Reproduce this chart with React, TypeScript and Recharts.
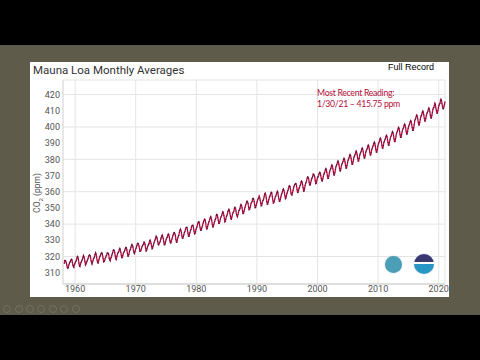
import React from "react";
import { LineChart, Line, CartesianGrid, XAxis, YAxis } from "recharts";

// monthly means (ppm), one row per year; the first row starts in March 1958
const startYear = 1958;
const startMonth = 2;
const monthlyPpm: number[][] = [
  [315.7, 317.5, 317.5, 317.1, 315.9, 314.9, 313.2, 312.7, 313.3, 314.7],
  [315.6, 316.5, 316.7, 317.7, 318.3, 318.2, 316.5, 314.8, 313.8, 313.3, 314.8, 315.6],
  [316.4, 317.0, 317.6, 319.0, 320.0, 319.6, 318.2, 315.9, 314.2, 313.8, 315.0, 316.2],
  [316.9, 317.7, 318.5, 319.5, 320.6, 319.8, 318.6, 316.8, 314.8, 315.4, 316.1, 317.0],
  [317.9, 318.6, 319.7, 320.6, 321.0, 320.6, 319.6, 317.4, 316.3, 315.4, 316.7, 317.7],
  [318.7, 319.1, 319.9, 321.4, 322.3, 321.5, 319.7, 317.8, 316.2, 316.0, 317.1, 318.4],
  [319.6, 320.3, 321.0, 322.0, 322.3, 321.9, 320.4, 318.7, 316.7, 316.9, 317.7, 318.7],
  [319.4, 320.4, 320.9, 322.1, 322.2, 321.9, 321.4, 318.8, 317.8, 317.3, 318.9, 319.4],
  [320.6, 321.6, 322.4, 323.9, 324.0, 323.8, 322.4, 320.4, 318.6, 318.1, 319.8, 321.1],
  [322.1, 322.5, 323.0, 324.4, 325.0, 324.1, 322.6, 320.9, 319.3, 319.3, 320.7, 322.0],
  [322.6, 323.2, 323.9, 325.0, 325.6, 325.4, 324.1, 322.1, 320.3, 320.3, 321.3, 322.9],
  [324.0, 324.4, 325.6, 326.7, 327.4, 326.7, 325.9, 323.7, 322.4, 321.8, 322.9, 324.1],
  [325.0, 326.0, 326.9, 328.1, 328.1, 327.7, 326.4, 324.7, 323.1, 323.2, 324.0, 325.1],
  [326.2, 326.7, 327.2, 327.8, 328.9, 328.6, 327.4, 325.4, 323.4, 323.6, 324.8, 326.0],
  [326.8, 327.6, 327.8, 329.7, 330.1, 329.1, 328.0, 326.3, 324.8, 325.2, 326.5, 327.6],
  [328.6, 329.6, 330.3, 331.5, 332.5, 332.1, 330.9, 329.3, 327.5, 327.2, 328.2, 328.6],
  [329.4, 330.7, 331.5, 332.7, 333.2, 332.2, 331.1, 329.2, 327.3, 327.3, 328.3, 329.6],
  [330.7, 331.5, 331.9, 333.2, 333.9, 333.5, 332.0, 330.0, 328.5, 328.3, 329.4, 330.6],
  [331.6, 332.8, 333.5, 334.6, 334.8, 334.0, 333.1, 330.7, 329.0, 328.8, 330.2, 331.6],
  [332.7, 333.1, 335.0, 336.1, 336.9, 336.2, 334.9, 332.6, 331.3, 331.3, 332.4, 333.6],
  [335.0, 335.3, 336.7, 337.7, 338.0, 338.0, 336.4, 334.4, 332.4, 332.4, 333.8, 334.9],
  [336.1, 336.7, 338.3, 339.0, 339.2, 339.3, 337.5, 335.8, 334.0, 334.2, 335.3, 336.8],
  [337.9, 338.3, 340.0, 340.9, 341.5, 341.3, 339.4, 337.7, 336.2, 336.2, 337.3, 338.3],
  [339.3, 340.6, 341.6, 342.5, 343.0, 342.5, 340.8, 338.4, 337.0, 337.1, 338.6, 339.9],
  [341.0, 341.7, 342.8, 344.0, 344.6, 343.8, 342.3, 340.1, 338.3, 338.3, 339.6, 340.9],
  [341.7, 342.9, 343.3, 345.3, 346.0, 345.6, 344.2, 342.3, 340.4, 340.4, 341.6, 343.1],
  [344.1, 344.8, 345.5, 346.8, 347.6, 347.0, 345.5, 343.6, 341.4, 341.7, 343.1, 344.7],
  [345.2, 346.2, 347.7, 348.3, 349.1, 348.4, 346.7, 345.0, 343.3, 343.1, 344.5, 345.9],
  [346.9, 347.5, 348.1, 349.8, 350.4, 349.9, 348.2, 346.1, 345.2, 344.5, 345.9, 347.2],
  [348.5, 348.7, 349.7, 351.3, 352.1, 351.5, 350.1, 348.1, 346.5, 346.6, 348.0, 349.2],
  [350.4, 351.6, 352.4, 353.7, 354.2, 353.7, 352.7, 350.4, 348.9, 349.1, 350.2, 351.4],
  [352.9, 353.3, 354.0, 355.6, 355.9, 355.4, 354.0, 351.8, 350.1, 350.3, 351.5, 352.9],
  [353.8, 355.0, 355.7, 356.3, 357.3, 356.3, 354.8, 353.0, 351.3, 351.6, 353.1, 354.3],
  [354.8, 355.7, 357.2, 358.7, 359.1, 358.1, 356.2, 353.9, 352.3, 352.4, 353.8, 355.1],
  [356.3, 357.1, 357.9, 359.1, 359.6, 359.3, 357.0, 354.9, 353.0, 353.3, 354.3, 355.6],
  [357.0, 357.3, 358.5, 359.3, 360.2, 359.5, 357.3, 355.6, 354.0, 354.1, 355.4, 356.9],
  [358.2, 358.9, 360.0, 361.2, 361.7, 360.8, 359.4, 357.5, 355.7, 356.1, 357.5, 359.0],
  [359.9, 360.9, 361.8, 363.3, 363.7, 363.2, 361.6, 359.1, 358.2, 358.0, 359.5, 360.7],
  [362.1, 363.2, 364.2, 364.6, 365.1, 364.9, 363.6, 361.4, 359.5, 359.6, 360.9, 362.2],
  [362.8, 363.8, 364.4, 366.1, 366.6, 365.9, 364.4, 362.5, 360.4, 360.5, 362.1, 363.9],
  [365.1, 365.8, 366.8, 368.5, 369.2, 368.9, 367.9, 365.9, 364.2, 364.2, 365.5, 366.9],
  [368.0, 368.7, 369.5, 370.9, 370.7, 370.2, 369.1, 367.0, 365.0, 365.2, 366.6, 368.0],
  [369.1, 369.3, 370.5, 371.4, 372.0, 371.5, 370.0, 368.1, 366.8, 366.7, 368.0, 369.4],
  [370.7, 371.5, 372.2, 373.5, 374.3, 373.7, 372.0, 369.9, 368.2, 368.2, 369.8, 371.6],
  [372.9, 373.7, 374.4, 375.7, 376.5, 375.9, 374.2, 372.1, 370.4, 370.4, 372.0, 373.8],
  [375.4, 376.2, 376.9, 378.2, 379.0, 378.4, 376.7, 374.6, 372.9, 372.9, 374.5, 376.3],
  [377.1, 377.9, 378.6, 379.9, 380.7, 380.1, 378.4, 376.3, 374.6, 374.6, 376.2, 378.0],
  [379.4, 380.2, 380.9, 382.2, 383.0, 382.4, 380.7, 378.6, 376.9, 376.9, 378.5, 380.3],
  [381.5, 382.3, 383.0, 384.3, 385.1, 384.5, 382.8, 380.7, 379.0, 379.0, 380.6, 382.4],
  [383.4, 384.2, 384.9, 386.2, 387.0, 386.4, 384.7, 382.6, 380.9, 380.9, 382.5, 384.3],
  [385.2, 386.0, 386.7, 388.0, 388.8, 388.2, 386.5, 384.4, 382.7, 382.7, 384.3, 386.1],
  [387.0, 387.8, 388.5, 389.8, 390.6, 390.0, 388.3, 386.2, 384.5, 384.5, 386.1, 387.9],
  [389.5, 390.3, 391.0, 392.3, 393.1, 392.5, 390.8, 388.7, 387.0, 387.0, 388.6, 390.4],
  [391.3, 392.1, 392.8, 394.1, 394.9, 394.3, 392.6, 390.5, 388.8, 388.8, 390.4, 392.2],
  [393.5, 394.3, 395.0, 396.3, 397.1, 396.5, 394.8, 392.7, 391.0, 391.0, 392.6, 394.4],
  [396.1, 396.9, 397.6, 398.9, 399.7, 399.1, 397.4, 395.3, 393.6, 393.6, 395.2, 397.0],
  [398.2, 399.0, 399.7, 401.0, 401.8, 401.2, 399.5, 397.4, 395.7, 395.7, 397.3, 399.1],
  [400.4, 401.2, 401.9, 403.2, 404.0, 403.4, 401.7, 399.6, 397.9, 397.9, 399.5, 401.3],
  [403.8, 404.6, 405.3, 406.6, 407.4, 406.8, 405.1, 403.0, 401.3, 401.3, 402.9, 404.7],
  [406.2, 407.0, 407.7, 409.0, 409.8, 409.2, 407.5, 405.4, 403.7, 403.7, 405.3, 407.1],
  [408.1, 408.9, 409.6, 410.9, 411.7, 411.1, 409.4, 407.3, 405.6, 405.6, 407.2, 409.0],
  [410.8, 411.8, 412.0, 413.3, 414.6, 413.9, 411.7, 410.0, 408.5, 408.5, 410.3, 411.8],
  [413.4, 414.1, 414.5, 416.2, 417.1, 416.4, 414.4, 412.5, 411.3, 411.3, 412.9, 414.0],
  [415.5],
];

const xTicks = [1960, 1970, 1980, 1990, 2000, 2010, 2020];
const yTicks = [310, 320, 330, 340, 350, 360, 370, 380, 390, 400, 410, 420];

const data: { x: number; ppm: number }[] = [];
monthlyPpm.forEach((row, i) => {
  const first = i === 0 ? startMonth : 0;
  row.forEach((ppm, j) => {
    data.push({ x: startYear + i + (first + j + 0.5) / 12, ppm });
  });
});

const tickStyle = { fontSize: 9, fill: "#555", fontFamily: "Roboto, sans-serif" };

// faint slide-show controls in the lower left corner
const controls = [6, 18, 29, 40, 52, 63, 75];

export default function App() {
  return (
    <div style={{ position: "absolute", left: 0, top: 0, width: 480, height: 360, background: "#000", overflow: "hidden" }}>
      <div style={{ position: "absolute", left: 0, top: 45, width: 480, height: 270, background: "#5e5b4b" }} />
      {controls.map((x) => (
        <div
          key={x}
          style={{ position: "absolute", left: x - 3, top: 305, width: 6, height: 6, borderRadius: "50%", border: "1px solid #74715f" }}
        />
      ))}
      <div style={{ position: "absolute", left: 30, top: 62, width: 419, height: 235, background: "#fff" }}>
        <LineChart width={419} height={235} data={data} margin={{ top: 18, right: 4, left: 0, bottom: 0 }}>
          <CartesianGrid stroke="#e4e4e4" />
          <XAxis
            dataKey="x"
            type="number"
            domain={[1958, 2021]}
            ticks={xTicks}
            height={13}
            tickLine={false}
            tickSize={0}
            tickMargin={2}
            stroke="#ccc"
            tick={tickStyle}
          />
          <YAxis
            type="number"
            domain={[303, 429]}
            ticks={yTicks}
            width={33}
            tickLine={false}
            tickSize={0}
            tickMargin={3}
            stroke="#ddd"
            tick={tickStyle}
          />
          <Line
            dataKey="ppm"
            type="linear"
            stroke="#c8103e"
            strokeWidth={1.3}
            dot={{ r: 0.55, fill: "#3a1d4a", stroke: "none" }}
            isAnimationActive={false}
          />
        </LineChart>
        <div style={{ position: "absolute", left: 3, top: 1, fontFamily: "Roboto, sans-serif", fontSize: 11.5, color: "#333", whiteSpace: "nowrap" }}>
          Mauna Loa Monthly Averages
        </div>
        <div style={{ position: "absolute", left: 358, top: 0, fontFamily: "'Liberation Sans', sans-serif", fontSize: 9, color: "#000", whiteSpace: "nowrap" }}>
          Full Record
        </div>
        <div
          style={{
            position: "absolute",
            left: 287,
            top: 25,
            fontFamily: "Lato, sans-serif",
            fontSize: 8.7,
            letterSpacing: -0.3,
            lineHeight: "11px",
            color: "#b5103c",
            whiteSpace: "nowrap",
          }}
        >
          Most Recent Reading:
          <br />
          1/30/21 – 415.75 ppm
        </div>
        <div
          style={{
            position: "absolute",
            left: 8,
            top: 131,
            transform: "translate(-50%, -50%) rotate(-90deg)",
            fontFamily: "Roboto, sans-serif",
            fontSize: 8.5,
            color: "#555",
            whiteSpace: "nowrap",
          }}
        >
          CO<sub style={{ fontSize: 6 }}>2</sub> (ppm)
        </div>
        <div style={{ position: "absolute", left: 355, top: 194, width: 17, height: 17, borderRadius: "50%", background: "#4a9fb6", boxShadow: "0 0 2px #bcd" }} />
        <div
          style={{
            position: "absolute",
            left: 384,
            top: 192,
            width: 20,
            height: 20,
            borderRadius: "50%",
            background: "linear-gradient(#3a3870 0%, #3a3870 42%, #fff 42%, #fff 52%, #2896c4 52%)",
            boxShadow: "0 0 2px #bcd",
          }}
        />
      </div>
    </div>
  );
}
